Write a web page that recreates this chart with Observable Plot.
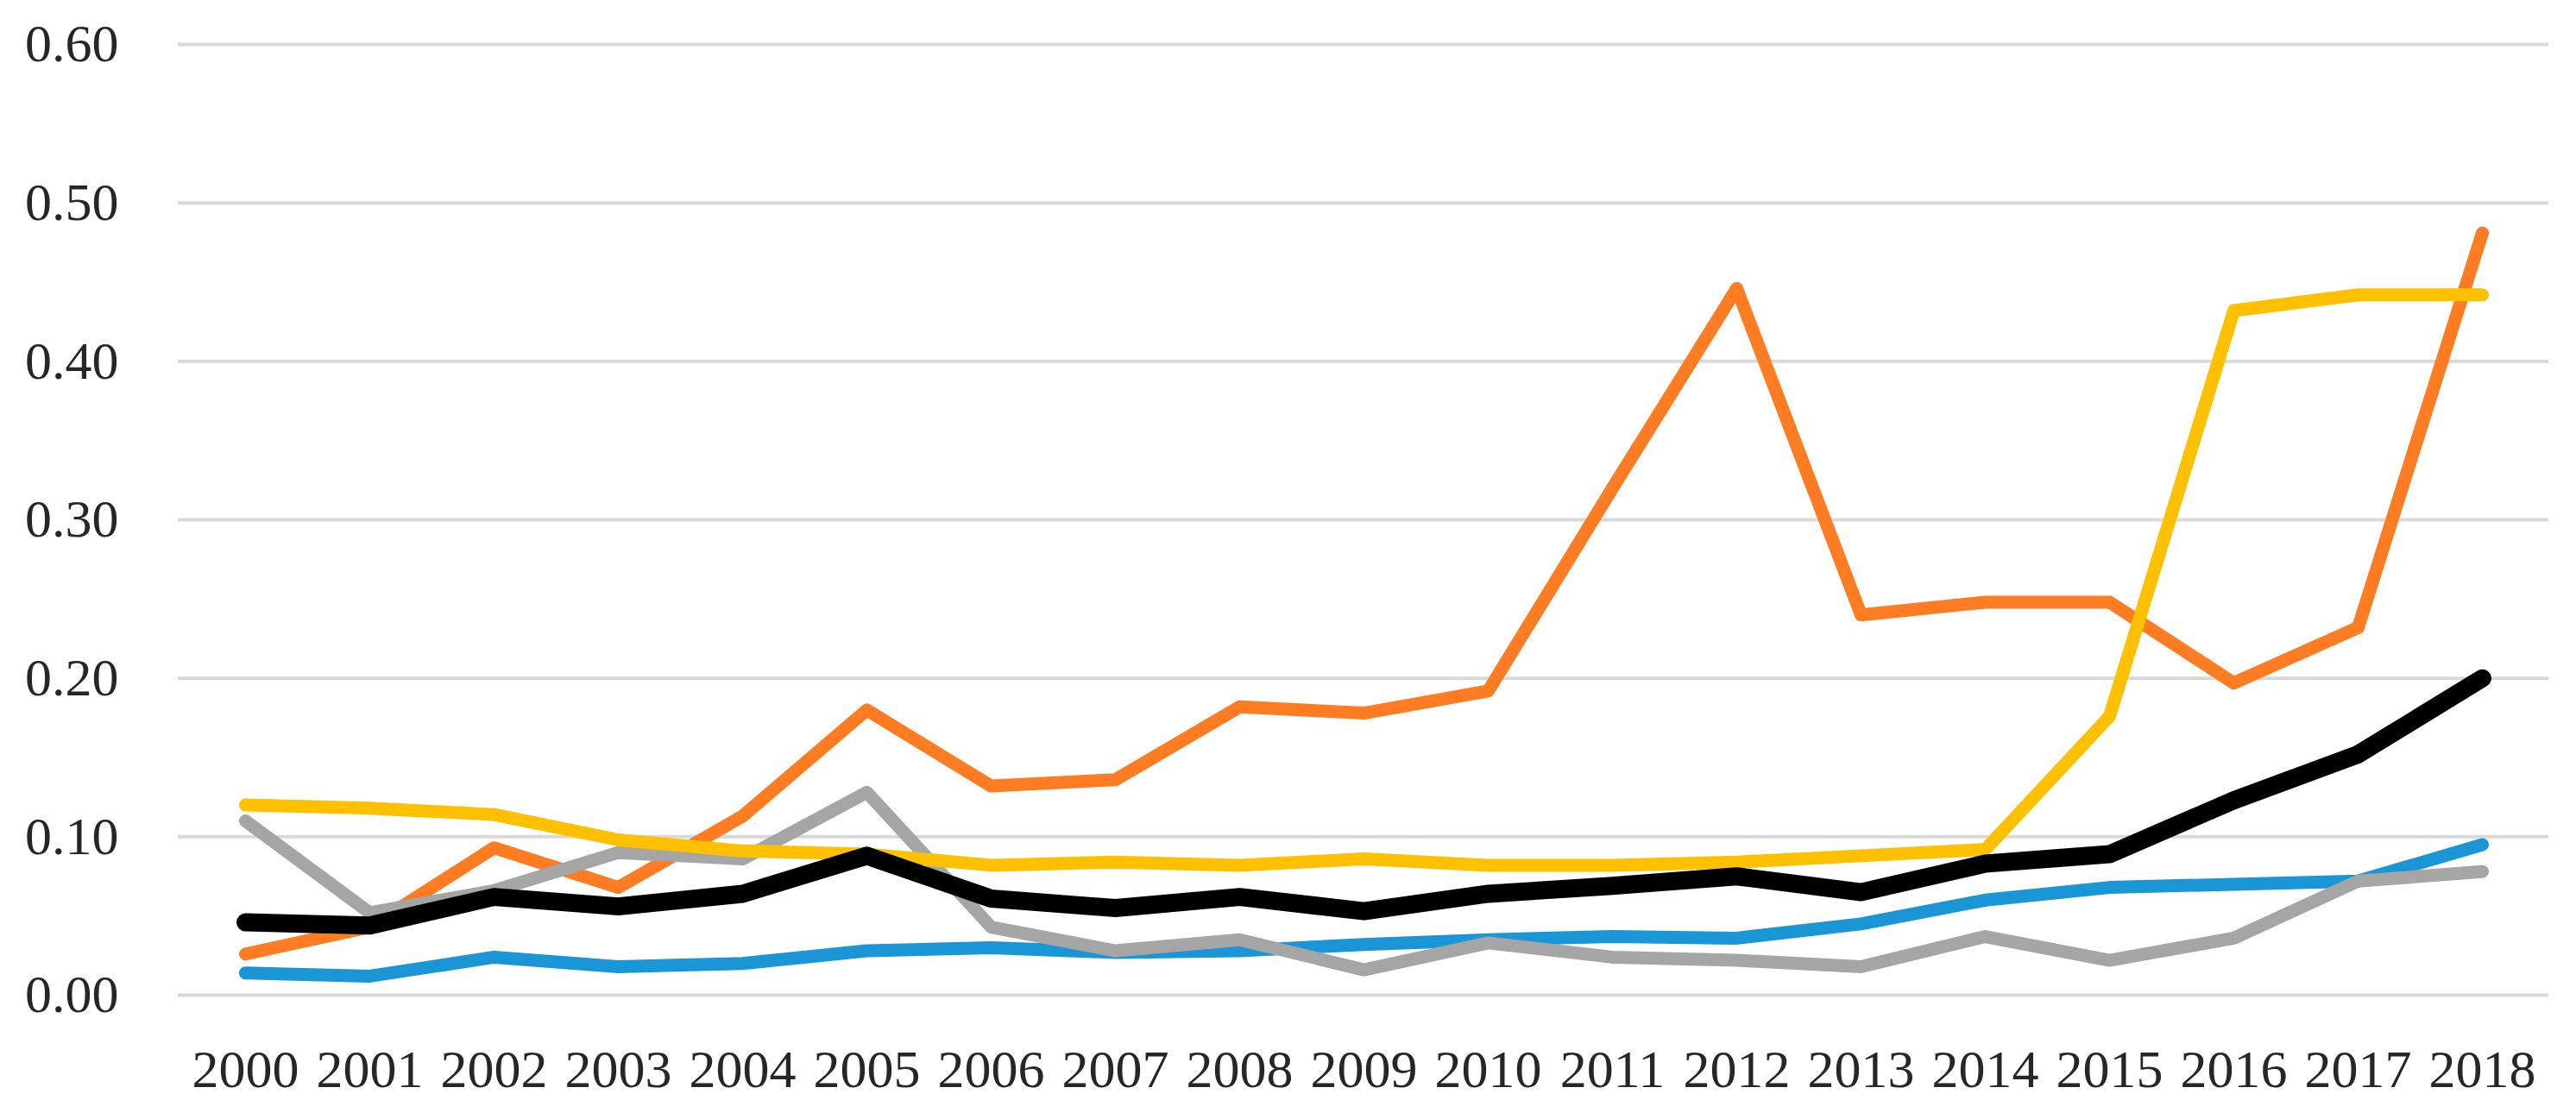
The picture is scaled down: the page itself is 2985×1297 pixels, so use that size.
<!DOCTYPE html>
<html>
<head>
<meta charset="utf-8">
<script src="https://cdn.jsdelivr.net/npm/d3@7"></script>
<script src="https://cdn.jsdelivr.net/npm/@observablehq/plot@0.6"></script>
<style>
  html, body { margin: 0; padding: 0; background: #ffffff; }
</style>
</head>
<body>
<div id="chart"></div>
<script>
const years = ["2000","2001","2002","2003","2004","2005","2006","2007","2008","2009","2010","2011","2012","2013","2014","2015","2016","2017","2018"];
const yTicks = [0, 0.1, 0.2, 0.3, 0.4, 0.5, 0.6];

const blueValues   = [0.014, 0.012, 0.024, 0.018, 0.020, 0.028, 0.030, 0.027, 0.028, 0.032, 0.035, 0.037, 0.036, 0.045, 0.060, 0.068, 0.070, 0.072, 0.095];
const grayValues   = [0.110, 0.052, 0.066, 0.090, 0.086, 0.128, 0.043, 0.028, 0.035, 0.016, 0.033, 0.024, 0.022, 0.018, 0.037, 0.022, 0.036, 0.072, 0.078];
const yellowValues = [0.120, 0.118, 0.114, 0.098, 0.091, 0.089, 0.082, 0.084, 0.082, 0.086, 0.082, 0.082, 0.084, 0.088, 0.092, 0.176, 0.432, 0.442, 0.442];
const orangeValues = [0.026, 0.043, 0.093, 0.068, 0.113, 0.180, 0.132, 0.136, 0.182, 0.178, 0.192, 0.320, 0.446, 0.240, 0.248, 0.248, 0.197, 0.232, 0.481];
const blackValues  = [0.046, 0.044, 0.062, 0.056, 0.064, 0.088, 0.061, 0.055, 0.062, 0.053, 0.064, 0.069, 0.075, 0.065, 0.083, 0.089, 0.123, 0.152, 0.200];

const seriesDefs = [
  {name: "blue",   values: blueValues,   color: "#1a95d5", width: 15},
  {name: "orange", values: orangeValues, color: "#ff7c22", width: 15},
  {name: "gray",   values: grayValues,   color: "#a5a5a5", width: 15},
  {name: "yellow", values: yellowValues, color: "#ffc000", width: 15},
  {name: "black",  values: blackValues,  color: "#000000", width: 21}
];

const lineMarks = seriesDefs.map(s =>
  Plot.line(years.map((yr, i) => ({year: yr, value: s.values[i]})), {
    x: "year", y: "value",
    stroke: s.color, strokeWidth: s.width,
    strokeLinejoin: "round", strokeLinecap: "round"
  })
);

const chart = Plot.plot({
  width: 2985,
  height: 1297,
  marginLeft: 206,
  marginRight: 32,
  marginTop: 51,
  marginBottom: 144,
  style: {fontFamily: "'Liberation Serif', 'DejaVu Serif', serif", fontSize: "62px", color: "#262626", background: "#ffffff"},
  x: {type: "point", domain: years, padding: 0.5},
  y: {domain: [0, 0.6]},
  marks: [
    Plot.ruleY(yTicks, {stroke: "#d9d9d9", strokeWidth: 4}),
    Plot.axisY({ticks: yTicks, tickFormat: d => d.toFixed(2), tickSize: 0, tickPadding: 69, label: null}),
    Plot.axisX({tickSize: 0, tickPadding: 62, label: null}),
    ...lineMarks
  ]
});
document.getElementById("chart").appendChild(chart);
</script>
</body>
</html>
